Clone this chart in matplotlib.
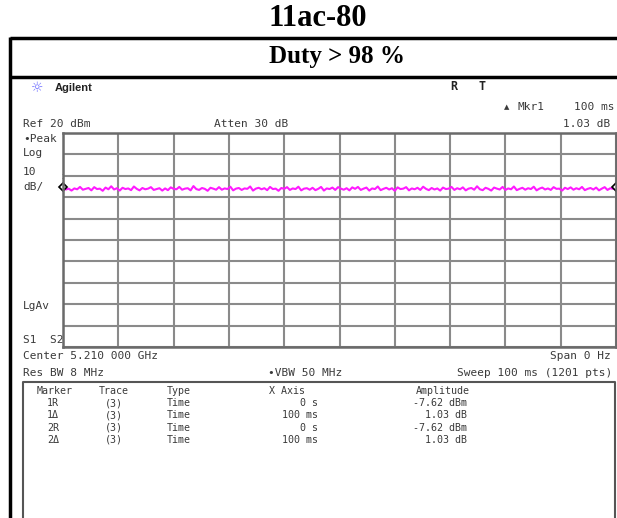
import matplotlib

matplotlib.use("Agg")
import matplotlib.pyplot as plt
import numpy as np

# chart text
TITLE = "11ac-80"
SUBTITLE = "Duty > 98 %"

# screen settings (ref level, scale, sweep)
REF_LEVEL = 20
DB_PER_DIV = 10
N_DIV = 10
SWEEP_MS = 100

# trace (dBm), roughly flat around -6 dBm
trace_dbm = [
    -5.6, -6.4, -6.0, -6.9, -5.9, -6.3, -5.2, -6.5, -6.1, -5.7,
    -6.8, -5.3, -6.2, -6.0, -7.0, -5.5, -6.3, -4.9, -6.4, -5.8,
    -6.9, -5.6, -6.2, -5.9, -6.7, -5.0, -6.1, -6.8, -5.7, -6.3,
    -6.0, -5.3, -6.6, -6.2, -5.8, -6.9, -5.9, -6.7, -5.4, -6.1,
    -6.3, -5.2, -6.5, -6.0, -5.8, -6.8, -4.8, -6.2, -6.6, -5.7,
    -6.1, -7.0, -5.6, -6.0, -6.5, -5.3, -6.5, -5.9, -6.2, -5.1,
    -6.8, -6.0, -5.7, -6.6, -5.9, -6.1, -5.0, -6.9, -6.0, -5.6,
    -6.3, -5.8, -6.7, -5.2, -6.2, -6.0, -7.0, -5.7, -6.1, -5.3,
    -6.6, -5.9, -6.2, -5.1, -6.8, -6.0, -5.8, -6.5, -5.6, -6.7,
    -6.1, -5.2, -6.9, -5.9, -6.2, -5.5, -6.6, -5.3, -6.0, -6.5,
    -5.8, -6.8, -5.4, -6.1, -5.2, -6.6, -6.0, -5.5, -6.9, -5.9,
    -6.2, -5.0, -6.7, -6.1, -5.6, -6.4, -5.8, -7.0, -5.4, -6.2,
    -6.0, -5.3, -6.8, -5.9, -6.3, -5.6, -6.6, -5.1, -6.1, -6.7,
    -5.7, -6.4, -5.9, -6.9, -5.5, -6.2, -6.0, -5.2, -6.6, -5.8,
    -6.3, -5.4, -6.8, -6.0, -5.7, -6.5, -4.9, -6.3, -6.7, -5.6,
    -6.1, -6.9, -5.5, -6.0, -6.4, -5.2, -6.6, -5.9, -6.3, -5.0,
    -6.7, -6.1, -5.6, -6.5, -5.8, -6.2, -5.1, -6.8, -6.0, -5.5,
    -6.4, -5.9, -6.6, -5.3, -6.1, -6.0, -6.9, -5.6, -6.2, -5.4,
    -6.5, -5.8, -6.3, -5.2, -6.7, -6.1, -5.7, -6.4, -5.5, -6.8,
    -6.0, -5.3, -6.6, -5.8, -6.1, -5.4,
]
marker_levels = [-5.2, -5.3]

# marker table
table_header = ["Marker", "Trace", "Type", "X Axis", "Amplitude"]
table_marker = ["1R", "1\u0394", "2R", "2\u0394"]
table_trace = ["(3)", "(3)", "(3)", "(3)"]
table_type = ["Time", "Time", "Time", "Time"]
table_xaxis = ["0 s", "100 ms", "0 s", "100 ms"]
table_amp = ["-7.62 dBm", "1.03 dB", "-7.62 dBm", "1.03 dB"]

W, H = 617, 518
MONO = "DejaVu Sans Mono"
TXT = "#3a3a3a"
TS = 7.2  # table font size

fig = plt.figure(figsize=(W / 100, H / 100), dpi=100)
bg = fig.add_axes([0, 0, 1, 1])
bg.set_xlim(0, W)
bg.set_ylim(H, 0)
bg.axis("off")

# report frame
bg.plot([10, W], [38, 38], color="black", lw=2.5, solid_capstyle="butt")
bg.plot([10, W], [77, 77], color="black", lw=2.5, solid_capstyle="butt")
bg.plot([10, 10], [37, H], color="black", lw=2.5, solid_capstyle="butt")
bg.text(318, 19, TITLE, ha="center", va="center", fontsize=22,
        fontweight="bold", family="Liberation Serif")
bg.text(337, 56, SUBTITLE, ha="center", va="center", fontsize=18,
        fontweight="bold", family="Liberation Serif")

# analyzer header
bg.text(37, 88, "\u263c", ha="center", va="center", fontsize=10, color="#6f6fff")
bg.text(55, 88, "Agilent", ha="left", va="center", fontsize=8,
        fontweight="bold", color="#222222", family="Liberation Sans")
bg.text(454, 87, "R", ha="center", va="center", fontsize=8.5, fontweight="bold",
        color="#222222", family=MONO)
bg.text(482, 87, "T", ha="center", va="center", fontsize=8.5, fontweight="bold",
        color="#222222", family=MONO)
bg.text(507, 107, "\u25b2", ha="center", va="center", fontsize=5, color=TXT)
bg.text(517, 107, "Mkr1", ha="left", va="center", fontsize=8, color=TXT, family=MONO)
bg.text(574, 107, "100 ms", ha="left", va="center", fontsize=8, color=TXT, family=MONO)
bg.text(23, 124, "Ref 20 dBm", ha="left", va="center", fontsize=8, color=TXT, family=MONO)
bg.text(214, 124, "Atten 30 dB", ha="left", va="center", fontsize=8, color=TXT, family=MONO)
bg.text(610, 124, "1.03 dB", ha="right", va="center", fontsize=8, color=TXT, family=MONO)

# left annotations
for label, y in [("\u2022Peak", 139), ("Log", 153), ("10", 172), ("dB/", 187),
                 ("LgAv", 306), ("S1  S2", 340)]:
    bg.text(23, y, label, ha="left", va="center", fontsize=8, color=TXT, family=MONO)

# footer settings
bg.text(23, 356, "Center 5.210 000 GHz", ha="left", va="center", fontsize=8,
        color=TXT, family=MONO)
bg.text(611, 356, "Span 0 Hz", ha="right", va="center", fontsize=8, color=TXT, family=MONO)
bg.text(23, 373, "Res BW 8 MHz", ha="left", va="center", fontsize=8, color=TXT, family=MONO)
bg.text(268, 373, "\u2022VBW 50 MHz", ha="left", va="center", fontsize=8,
        color=TXT, family=MONO)
bg.text(612, 373, "Sweep 100 ms (1201 pts)", ha="right", va="center", fontsize=8,
        color=TXT, family=MONO)

# marker table
bg.plot([23, 23, 615, 615], [H + 2, 382, 382, H + 2], color="#555555", lw=1.5)
row_y = [403, 415, 428, 440]
bg.text(55, 391, table_header[0], ha="center", va="center", fontsize=TS, color=TXT, family=MONO)
bg.text(114, 391, table_header[1], ha="center", va="center", fontsize=TS, color=TXT, family=MONO)
bg.text(167, 391, table_header[2], ha="left", va="center", fontsize=TS, color=TXT, family=MONO)
bg.text(269, 391, table_header[3], ha="left", va="center", fontsize=TS, color=TXT, family=MONO)
bg.text(416, 391, table_header[4], ha="left", va="center", fontsize=TS, color=TXT, family=MONO)
for i, y in enumerate(row_y):
    bg.text(53, y, table_marker[i], ha="center", va="center", fontsize=TS, color=TXT, family=MONO)
    bg.text(114, y, table_trace[i], ha="center", va="center", fontsize=TS, color=TXT, family=MONO)
    bg.text(167, y, table_type[i], ha="left", va="center", fontsize=TS, color=TXT, family=MONO)
    bg.text(318, y, table_xaxis[i], ha="right", va="center", fontsize=TS, color=TXT, family=MONO)
    bg.text(467, y, table_amp[i], ha="right", va="center", fontsize=TS, color=TXT, family=MONO)

# graticule
x0, x1, y0, y1 = 63, 616, 133, 347
ax = fig.add_axes([x0 / W, 1 - y1 / H, (x1 - x0) / W, (y1 - y0) / H])
bottom = REF_LEVEL - DB_PER_DIV * N_DIV
ax.set_xlim(0, SWEEP_MS)
ax.set_ylim(bottom, REF_LEVEL)
ax.set_xticks(np.linspace(0, SWEEP_MS, N_DIV + 1))
ax.set_yticks(np.linspace(bottom, REF_LEVEL, N_DIV + 1))
ax.grid(True, color="#8a8a8a", lw=1.5)
ax.tick_params(left=False, bottom=False, labelleft=False, labelbottom=False)
for s in ax.spines.values():
    s.set_color("#6a6a6a")
    s.set_linewidth(1.8)
ax.set_facecolor("white")

t = np.linspace(0, SWEEP_MS, len(trace_dbm))
ax.plot(t, trace_dbm, color="#ff1aff", lw=1.5)
ax.plot([0, SWEEP_MS], marker_levels, ls="none", marker="D", ms=4,
        mfc="white", mec="black", mew=1.2, clip_on=False)
bg.text(66, 177, "2R", ha="center", va="center", fontsize=5, color=TXT, family=MONO)

fig.savefig("out.png", dpi=100)
